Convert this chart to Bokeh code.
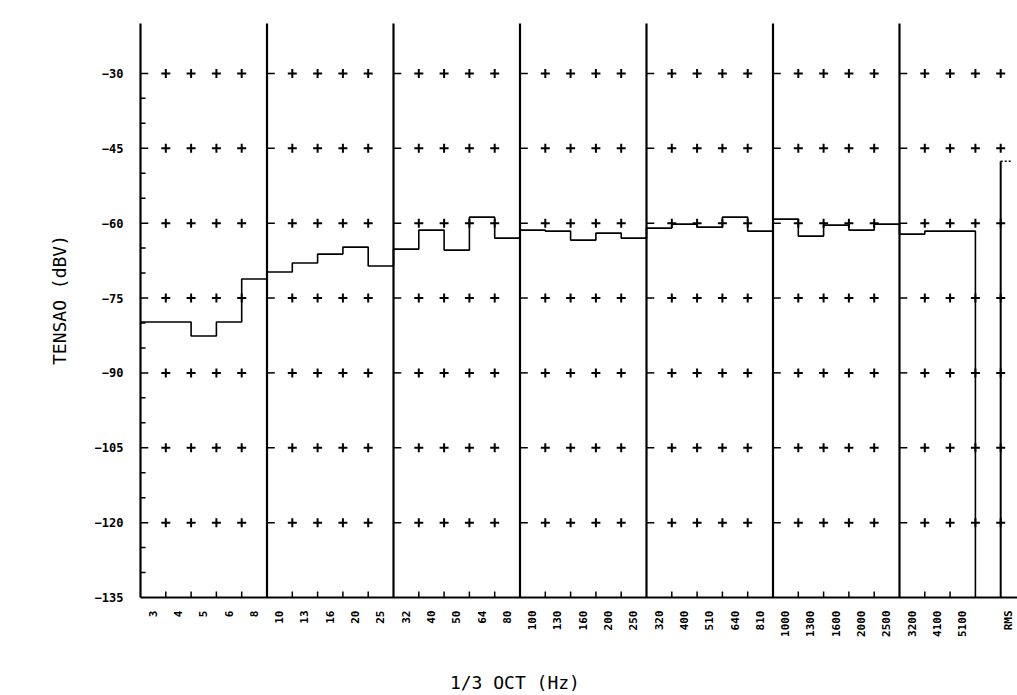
from math import pi
from bokeh.plotting import figure
from bokeh.models import Range1d, FixedTicker, LinearAxis
from bokeh.embed import file_html
from bokeh.resources import INLINE

# ---- data ----
bands = ["3", "4", "5", "6", "8",
         "10", "13", "16", "20", "25",
         "32", "40", "50", "64", "80",
         "100", "130", "160", "200", "250",
         "320", "400", "510", "640", "810",
         "1000", "1300", "1600", "2000", "2500",
         "3200", "4100", "5100"]
levels = [-79.8, -79.8, -82.6, -79.8, -71.2,
          -69.8, -68.0, -66.2, -64.8, -68.6,
          -65.2, -61.4, -65.4, -58.8, -63.0,
          -61.4, -61.6, -63.4, -62.0, -63.0,
          -61.0, -60.2, -60.8, -58.8, -61.6,
          -59.2, -62.6, -60.4, -61.4, -60.2,
          -62.2, -61.6, -61.6]
rms_label = "RMS"
rms_level = -47.6
y_ticks = [-30, -45, -60, -75, -90, -105, -120, -135]
y_minor = [-35, -40, -50, -55, -65, -70, -80, -85, -95, -100, -110, -115, -125, -130]
bands_per_section = 5
x_title = "1/3 OCT (Hz)"
y_title = "TENSAO (dBV)"

Y_BASE = -135
Y_TOP_LINE = -20
n = len(bands)
rms_pos = n + 1

p = figure(width=1017, height=695, output_backend="svg", toolbar_location=None,
           x_range=Range1d(-5 / 25.3, 877 / 25.3), y_range=Range1d(-135.4, -15.4),
           min_border_left=135, min_border_right=0, min_border_top=0, min_border_bottom=95)
p.outline_line_color = None
p.xgrid.visible = False
p.ygrid.visible = False
p.background_fill_color = "white"
p.border_fill_color = "white"

# section (vertical) lines
sec_x = list(range(0, n, bands_per_section))
p.segment(x0=sec_x, y0=[Y_BASE] * len(sec_x), x1=sec_x, y1=[Y_TOP_LINE] * len(sec_x),
          line_color="black", line_width=2.2)
# baseline
p.segment(x0=[0], y0=[Y_BASE], x1=[877 / 25.3], y1=[Y_BASE], line_color="black", line_width=2)
# left minor ticks
p.segment(x0=[0] * len(y_minor), y0=y_minor, x1=[0.2] * len(y_minor), y1=y_minor,
          line_color="black", line_width=1.5)
# baseline band ticks
bt = [i for i in range(1, n) if i % bands_per_section != 0]
p.segment(x0=bt, y0=[Y_BASE] * len(bt), x1=bt, y1=[Y_BASE + 1.2] * len(bt),
          line_color="black", line_width=1.5)

# grid crosses
grid_rows = y_ticks[:-1]
cx, cy, dx, dy = [], [], [], []
for r in grid_rows:
    for i in range(0, rms_pos + 1):
        if i % bands_per_section == 0 and i <= n:
            dx.append(i + 0.15); dy.append(r)
        else:
            cx.append(i); cy.append(r)
p.scatter(cx, cy, marker="cross", size=9, line_width=2, line_color="black")
p.scatter(dx, dy, marker="dash", size=8, line_width=1.5, line_color="black")

# spectrum steps
sx, sy = [], []
for i, v in enumerate(levels):
    sx += [i, i + 1]
    sy += [v, v]
sx.append(n); sy.append(Y_BASE)
p.line(sx, sy, line_color="black", line_width=1.6)

# RMS bar
p.line([rms_pos, rms_pos], [Y_BASE, rms_level], line_color="black", line_width=2)
p.line([rms_pos, rms_pos + 0.45], [rms_level, rms_level], line_color="black",
       line_width=1.5, line_dash="2 2")

# axes
p.yaxis.ticker = FixedTicker(ticks=y_ticks)
p.yaxis.axis_line_color = None
p.yaxis.major_tick_line_color = None
p.yaxis.minor_tick_line_color = None
p.yaxis.major_label_standoff = 6
p.yaxis.major_label_text_font = "DejaVu Sans Mono"
p.yaxis.major_label_text_font_style = "bold"
p.yaxis.major_label_text_font_size = "12px"
p.yaxis.major_label_text_color = "black"
p.yaxis.axis_label = y_title
p.yaxis.axis_label_text_font = "DejaVu Sans Mono"
p.yaxis.axis_label_text_font_style = "normal"
p.yaxis.axis_label_text_font_size = "18px"
p.yaxis.axis_label_text_color = "black"
p.yaxis.axis_label_standoff = 22

xt = [i + 0.5 for i in range(n)] + [rms_pos + 0.3]
xa = p.xaxis[0]
xa.ticker = FixedTicker(ticks=xt)
xa.major_label_overrides = {t: lab for t, lab in zip(xt, bands + [rms_label])}
xa.major_label_orientation = pi / 2
xa.axis_line_color = None
xa.major_tick_line_color = None
xa.minor_tick_line_color = None
xa.major_label_standoff = 5
xa.major_label_text_font = "DejaVu Sans Mono"
xa.major_label_text_font_style = "bold"
xa.major_label_text_font_size = "11px"
xa.major_label_text_color = "black"

# x title as a second bottom axis, so it can sit off-centre like the original
title_pos = 14.8
ta = LinearAxis(ticker=FixedTicker(ticks=[title_pos]),
                major_label_overrides={title_pos: x_title})
ta.axis_line_color = None
ta.major_tick_line_color = None
ta.minor_tick_line_color = None
ta.major_label_standoff = 26
ta.major_label_text_font = "DejaVu Sans Mono"
ta.major_label_text_font_size = "18px"
ta.major_label_text_color = "black"
p.add_layout(ta, "below")

open("out.html", "w").write(file_html(p, INLINE))
